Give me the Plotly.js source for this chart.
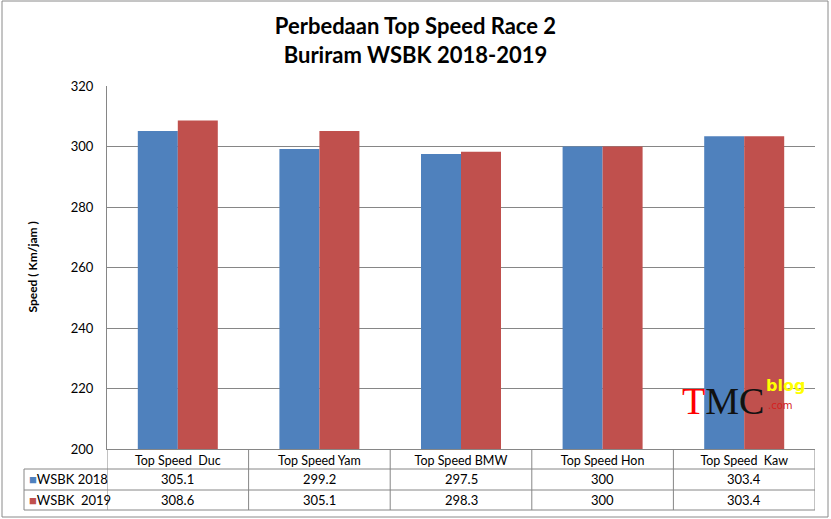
<!DOCTYPE html>
<html>
<head>
<meta charset="utf-8">
<script src="https://cdn.plot.ly/plotly-3.0.1.min.js"></script>
<style>
  html, body { margin: 0; padding: 0; background: #fff; }
  #chart { width: 831px; height: 519px; }
</style>
</head>
<body>
<div id="chart"></div>
<script>
const categories = ['Top Speed\u00A0 Duc', 'Top Speed Yam', 'Top Speed BMW', 'Top Speed Hon', 'Top Speed\u00A0 Kaw'];
const seriesNames = ['WSBK 2018', 'WSBK\u00A0 2019'];
const wsbk2018 = [305.1, 299.2, 297.5, 300, 303.4];
const wsbk2019 = [308.6, 305.1, 298.3, 300, 303.4];
const colors = ['#4F81BD', '#C0504D'];

const font = 'Lato, "Open Sans", "Liberation Sans", sans-serif';
const gridCol = '#868686';

// plot area in px: x 107..815, y 86..449
const L = 107, R = 16, T = 86, B = 70, W = 831, H = 519;
const pw = W - L - R, ph = H - T - B;
const px = v => (v - L) / pw;          // pixel x -> paper x
const py = v => (H - B - v) / ph;      // pixel y -> paper y

let data = [wsbk2018, wsbk2019].map((vals, i) => ({
	type: 'bar',
	x: categories,
	y: vals,
	name: seriesNames[i],
	marker: {color: colors[i], line: {width: 0}},
	hoverinfo: 'skip'
}));

// data table below the axis
let shapes = [];
let annotations = [];
const line = {color: gridCol, width: 1};
const rowLines = [469, 490, 510];
for (const ry of rowLines) {
	shapes.push({type: 'line', xref: 'paper', yref: 'paper', x0: px(24), x1: 1, y0: py(ry), y1: py(ry), line: line});
}
shapes.push({type: 'line', xref: 'paper', yref: 'paper', x0: px(24), x1: px(24), y0: py(469), y1: py(510), line: line});
for (let k = 0; k <= categories.length; k++) {
	shapes.push({type: 'line', xref: 'x', yref: 'paper', x0: k - 0.5, x1: k - 0.5, y0: 0, y1: py(510), line: line});
}
// outer chart border
shapes.push({type: 'rect', xref: 'paper', yref: 'paper', x0: px(2), x1: px(828), y0: py(517), y1: py(1),
	line: {color: '#8a8a8a', width: 1}});

const rowY = [py(479.5), py(500)];
[wsbk2018, wsbk2019].forEach((vals, r) => {
	annotations.push({
		xref: 'paper', yref: 'paper', x: px(27), y: rowY[r], xanchor: 'left', yanchor: 'middle',
		text: '<span style="color:' + colors[r] + ';font-size:13px">■</span>' + seriesNames[r],
		showarrow: false, font: {family: font, size: 13, color: '#000'}
	});
	vals.forEach((v, c) => {
		annotations.push({
			xref: 'x', yref: 'paper', x: c, y: rowY[r], xanchor: 'center', yanchor: 'middle',
			text: String(v), showarrow: false, font: {family: font, size: 13, color: '#000'}
		});
	});
});

// y axis title
annotations.push({
	xref: 'paper', yref: 'paper', x: px(32), y: 0.5, xanchor: 'center', yanchor: 'middle',
	textangle: -90, showarrow: false,
	text: '<b>Speed ( Km/jam )</b>', font: {family: font, size: 12, color: '#000'}
});

// TMC blog watermark
annotations.push({
	xref: 'paper', yref: 'paper', x: px(680), y: py(401), xanchor: 'left', yanchor: 'middle', showarrow: false,
	text: '<span style="color:#ff0000">T</span>MC', font: {family: '"Liberation Serif", serif', size: 38, color: '#111'}
});
annotations.push({
	xref: 'paper', yref: 'paper', x: px(764), y: py(385), xanchor: 'left', yanchor: 'middle', showarrow: false,
	text: '<b>blog</b>', font: {family: '"DejaVu Sans", sans-serif', size: 16, color: '#ffff00'}
});
annotations.push({
	xref: 'paper', yref: 'paper', x: px(766), y: py(405), xanchor: 'left', yanchor: 'middle', showarrow: false,
	text: '.com', font: {family: '"DejaVu Sans", sans-serif', size: 10, color: '#d42020'}
});

let layout = {
	width: W,
	height: H,
	margin: {l: L, r: R, t: T, b: B, pad: 0},
	paper_bgcolor: '#fff',
	plot_bgcolor: '#fff',
	showlegend: false,
	barmode: 'group',
	bargap: 0.435,
	bargroupgap: 0,
	font: {family: font, size: 13, color: '#000'},
	title: {
		text: '<b>Perbedaan Top Speed Race 2<br>Buriram WSBK 2018-2019</b>',
		font: {family: font, size: 22, color: '#000'},
		x: 0.5, xref: 'container', xanchor: 'center',
		y: 1 - 34 / H, yref: 'container', yanchor: 'middle'
	},
	xaxis: {
		type: 'category',
		showline: true, linecolor: gridCol, linewidth: 1,
		showgrid: false, zeroline: false,
		ticks: '', tickfont: {family: font, size: 12.5, color: '#000'},
		range: [-0.5, categories.length - 0.5],
		fixedrange: true
	},
	yaxis: {
		range: [200, 320],
		dtick: 20, tick0: 200,
		showline: true, linecolor: gridCol, linewidth: 1,
		showgrid: true, gridcolor: gridCol, gridwidth: 1,
		zeroline: false,
		ticks: '', ticklabelstandoff: 10,
		tickfont: {family: font, size: 13, color: '#000'},
		fixedrange: true
	},
	shapes: shapes,
	annotations: annotations
};

Plotly.newPlot('chart', data, layout, {displayModeBar: false, staticPlot: true});
</script>
</body>
</html>
